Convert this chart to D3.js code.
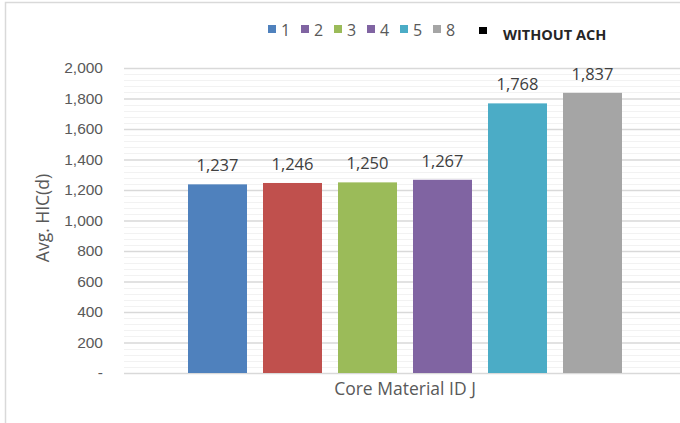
<!DOCTYPE html>
<html>
<head>
<meta charset="utf-8">
<script src="https://cdn.jsdelivr.net/npm/d3@7"></script>
<style>
  html, body { margin: 0; padding: 0; background: #fff; }
  svg { display: block; font-family: "Open Sans", "Noto Sans", sans-serif; }
</style>
</head>
<body>
<svg id="chart" width="680" height="423"></svg>
<script>
// Average HIC(d) per core material sample, group "J"
const category = "Core Material ID J";
const seriesNames = ["1", "2", "3", "4", "5", "8"];
const seriesValues = [1237, 1246, 1250, 1267, 1768, 1837];
const barColors = ["#4F81BD", "#C0504D", "#9BBB59", "#8064A2", "#4BACC6", "#A5A5A5"];
const legendColors = ["#4F81BD", "#8064A2", "#9BBB59", "#8064A2", "#4BACC6", "#A5A5A5"];
const extraLegendLabel = "WITHOUT ACH";
const yTicks = [0, 200, 400, 600, 800, 1000, 1200, 1400, 1600, 1800, 2000];
const yTickLabels = ["-", "200", "400", "600", "800", "1,000", "1,200", "1,400", "1,600", "1,800", "2,000"];
const yMinorStep = 40;
const yTitle = "Avg. HIC(d)";

const svg = d3.select("#chart");
const plot = { left: 124, right: 686, top: 68, bottom: 373 };

// outer frame
svg.append("rect")
  .attr("x", 5.5).attr("y", 2.5)
  .attr("width", 700).attr("height", 440)
  .attr("fill", "none").attr("stroke", "#D9D9D9").attr("stroke-width", 1.5);

const y = d3.scaleLinear().domain([0, 2000]).range([plot.bottom, plot.top]);
const x = d3.scaleBand()
  .domain(seriesNames)
  .range([plot.left, plot.right])
  .paddingInner(16 / 75)
  .paddingOuter(64 / 75);

// minor gridlines
const minor = d3.range(0, 2001, yMinorStep).filter(v => v % 200 !== 0);
svg.append("g").selectAll("line").data(minor).join("line")
  .attr("x1", plot.left).attr("x2", plot.right)
  .attr("y1", d => Math.round(y(d)) + 0.5).attr("y2", d => Math.round(y(d)) + 0.5)
  .attr("stroke", "#F2F2F2").attr("stroke-width", 1);

// major gridlines + tick labels via axis
const yAxis = d3.axisLeft(y)
  .tickValues(yTicks)
  .tickSize(-(plot.right - plot.left))
  .tickPadding(20)
  .tickFormat((d, i) => yTickLabels[i]);
const gy = svg.append("g")
  .attr("transform", `translate(${plot.left},0)`)
  .call(yAxis);
gy.select(".domain").remove();
gy.selectAll(".tick line").attr("stroke", "#D9D9D9").attr("stroke-width", 1.5);
gy.selectAll(".tick text")
  .attr("fill", "#595959")
  .style("font-size", "15.5px")
  .attr("x", -21);

// bars
svg.append("g").selectAll("rect").data(seriesValues).join("rect")
  .attr("x", (d, i) => x(seriesNames[i]))
  .attr("y", d => y(d))
  .attr("width", x.bandwidth())
  .attr("height", d => y(0) - y(d))
  .attr("fill", (d, i) => barColors[i]);

// value labels
svg.append("g").selectAll("text").data(seriesValues).join("text")
  .attr("x", (d, i) => x(seriesNames[i]) + x.bandwidth() / 2)
  .attr("y", d => y(d) - 13)
  .attr("text-anchor", "middle")
  .attr("fill", "#404040")
  .style("font-size", "16.5px")
  .text(d => d3.format(",")(d));

// category axis label
svg.append("text")
  .attr("x", (plot.left + plot.right) / 2)
  .attr("y", 395)
  .attr("text-anchor", "middle")
  .attr("fill", "#595959")
  .style("font-size", "17.5px")
  .text(category);

// y axis title
svg.append("text")
  .attr("transform", "translate(49,218) rotate(-90)")
  .attr("text-anchor", "middle")
  .attr("fill", "#595959")
  .style("font-size", "17.5px")
  .text(yTitle);

// legend
const legend = svg.append("g");
const lx0 = 268, lstep = 33;
seriesNames.forEach((name, i) => {
  const g = legend.append("g").attr("transform", `translate(${lx0 + i * lstep},0)`);
  g.append("rect").attr("x", 0).attr("y", 25).attr("width", 8).attr("height", 8)
    .attr("fill", legendColors[i]);
  g.append("text").attr("x", 13).attr("y", 36)
    .attr("fill", "#595959").style("font-size", "16px").text(name);
});
legend.append("rect").attr("x", 479).attr("y", 27).attr("width", 8).attr("height", 7)
  .attr("fill", "#000");
legend.append("text").attr("x", 503).attr("y", 40)
  .attr("fill", "#262626").style("font-size", "14.5px").style("font-weight", "bold")
  .text(extraLegendLabel);
</script>
</body>
</html>
